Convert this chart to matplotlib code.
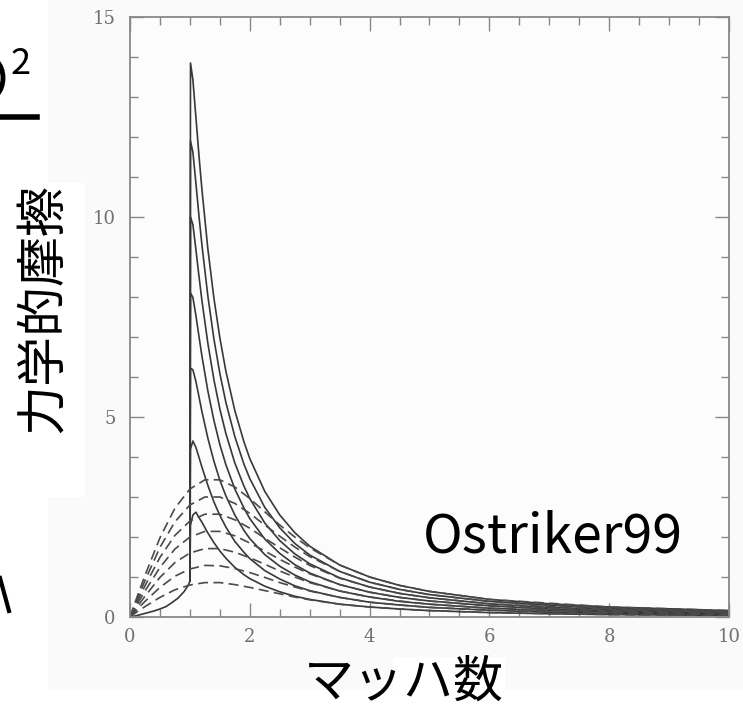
import matplotlib
matplotlib.use("Agg")
import matplotlib.pyplot as plt
from matplotlib.patches import Rectangle, Arc
from matplotlib.ticker import MultipleLocator

# subsonic part shared by all solid curves (M < 1)
sub_mach = [0.0, 0.1, 0.2, 0.3, 0.4, 0.5, 0.6, 0.7, 0.8, 0.9, 0.95, 0.98, 1.0]
sub_force = [0.0, 0.03, 0.07, 0.11, 0.15, 0.2, 0.26, 0.36, 0.47, 0.63, 0.74, 0.82, 0.9]

# gaseous drag (solid), M >= 1
gas_mach = [1.0, 1.01, 1.05, 1.1, 1.15, 1.2, 1.3, 1.4, 1.5, 1.6, 1.75, 1.9, 2.0, 2.25, 2.5,
            2.75, 3.0, 3.5, 4.0, 4.5, 5.0, 6.0, 7.0, 8.0, 10.0]
gas_force = [
    [0.9, 2.30, 2.55, 2.62, 2.49, 2.37, 2.10, 1.86, 1.65, 1.47, 1.24, 1.06, 0.96, 0.77, 0.63,
     0.52, 0.44, 0.32, 0.25, 0.20, 0.16, 0.11, 0.08, 0.06, 0.04],
    [0.9, 4.20, 4.40, 4.24, 4.00, 3.75, 3.29, 2.88, 2.54, 2.25, 1.89, 1.62, 1.46, 1.16, 0.95,
     0.78, 0.66, 0.49, 0.37, 0.30, 0.24, 0.17, 0.12, 0.09, 0.06],
    [0.9, 6.22, 6.18, 5.89, 5.52, 5.14, 4.47, 3.90, 3.42, 3.03, 2.55, 2.17, 1.96, 1.56, 1.27,
     1.05, 0.88, 0.65, 0.50, 0.39, 0.32, 0.22, 0.16, 0.125, 0.08],
    [0.9, 8.10, 7.99, 7.54, 7.03, 6.53, 5.65, 4.92, 4.31, 3.81, 3.20, 2.73, 2.46, 1.95, 1.59,
     1.31, 1.10, 0.81, 0.62, 0.49, 0.40, 0.28, 0.20, 0.156, 0.10],
    [0.9, 10.0, 9.81, 9.19, 8.54, 7.92, 6.84, 5.94, 5.20, 4.59, 3.85, 3.28, 2.96, 2.35, 1.91,
     1.58, 1.33, 0.98, 0.75, 0.59, 0.48, 0.33, 0.24, 0.19, 0.12],
    [0.9, 11.9, 11.62, 10.85, 10.05, 9.31, 8.02, 6.96, 6.09, 5.37, 4.51, 3.83, 3.46, 2.74, 2.23,
     1.84, 1.55, 1.14, 0.87, 0.69, 0.56, 0.39, 0.29, 0.22, 0.14],
    [0.9, 13.85, 13.43, 12.50, 11.56, 10.70, 9.20, 7.98, 6.98, 6.15, 5.16, 4.39, 3.96, 3.14, 2.55,
     2.11, 1.77, 1.30, 1.00, 0.79, 0.64, 0.44, 0.33, 0.25, 0.16],
]

# collisionless drag (dashed)
cl_mach = [0.0, 0.1, 0.25, 0.5, 0.75, 1.0, 1.25, 1.5, 1.75, 2.0, 2.25, 2.5, 2.75, 3.0, 3.5,
           4.0, 4.5, 5.0, 6.0, 8.0, 10.0]
cl_force = [
    [0, 0.11, 0.26, 0.49, 0.68, 0.80, 0.86, 0.86, 0.81, 0.74, 0.66, 0.58, 0.50, 0.43, 0.32,
     0.25, 0.20, 0.16, 0.11, 0.06, 0.04],
    [0, 0.16, 0.39, 0.74, 1.02, 1.20, 1.29, 1.28, 1.21, 1.11, 0.99, 0.86, 0.75, 0.65, 0.49,
     0.37, 0.30, 0.24, 0.17, 0.09, 0.06],
    [0, 0.21, 0.52, 0.99, 1.36, 1.60, 1.71, 1.71, 1.62, 1.48, 1.32, 1.15, 1.00, 0.86, 0.65,
     0.50, 0.40, 0.32, 0.22, 0.125, 0.08],
    [0, 0.27, 0.65, 1.24, 1.70, 2.00, 2.14, 2.14, 2.03, 1.85, 1.65, 1.44, 1.25, 1.08, 0.81,
     0.62, 0.49, 0.40, 0.28, 0.16, 0.10],
    [0, 0.32, 0.78, 1.49, 2.04, 2.40, 2.57, 2.57, 2.43, 2.22, 1.97, 1.73, 1.50, 1.29, 0.97,
     0.75, 0.59, 0.48, 0.33, 0.19, 0.12],
    [0, 0.37, 0.91, 1.74, 2.38, 2.80, 3.00, 3.00, 2.84, 2.59, 2.30, 2.02, 1.75, 1.51, 1.14,
     0.87, 0.69, 0.56, 0.39, 0.22, 0.14],
    [0, 0.43, 1.04, 1.98, 2.72, 3.20, 3.43, 3.43, 3.25, 2.96, 2.63, 2.30, 2.00, 1.73, 1.30,
     1.00, 0.79, 0.64, 0.44, 0.25, 0.16],
]

W, H = 743, 711
fig = plt.figure(figsize=(W / 100, H / 100), dpi=100)
fig.patch.set_facecolor("white")

# light grey background of the pasted figure
fig.add_artist(Rectangle((48 / W, (H - 690) / H), 1 - 48 / W, 690 / H,
                         transform=fig.transFigure, facecolor="#fafafa", edgecolor="none", zorder=-5))
# white boxes behind the big labels
fig.add_artist(Rectangle((20 / W, (H - 497) / H), 65 / W, 314 / H,
                         transform=fig.transFigure, facecolor="white", edgecolor="none", zorder=-4))
fig.add_artist(Rectangle((393 / W, 0), 112 / W, (H - 657) / H,
                         transform=fig.transFigure, facecolor="white", edgecolor="none", zorder=-4))

ax = fig.add_axes([130 / W, (H - 617) / H, 599 / W, 600 / H])
ax.set_facecolor("#fcfcfc")

line_col = "#383838"
ax.plot(sub_mach, sub_force, color=line_col, lw=1.2)
for f in gas_force:
    ax.plot(gas_mach, f, color=line_col, lw=1.2)
for f in cl_force:
    ax.plot(cl_mach, f, color="#4a4a4a", lw=1.2, linestyle=(0, (6, 3.2)))

ax.set_xlim(0, 10)
ax.set_ylim(0, 15)
ax.xaxis.set_major_locator(MultipleLocator(2))
ax.xaxis.set_minor_locator(MultipleLocator(0.5))
ax.yaxis.set_major_locator(MultipleLocator(5))
ax.yaxis.set_minor_locator(MultipleLocator(1))
ax.tick_params(which="both", direction="in", top=True, right=True, color="#888888", width=1.0)
ax.tick_params(which="major", length=10)
ax.tick_params(which="minor", length=6)
ax.tick_params(axis="x", pad=8)
ax.tick_params(axis="y", pad=10.5)
for lab in ax.get_xticklabels() + ax.get_yticklabels():
    lab.set_family("DejaVu Serif")
    lab.set_fontsize(13)
    lab.set_color("#707070")
for s in ax.spines.values():
    s.set_color("#888888")
    s.set_linewidth(1.3)

jp = ["Noto Sans CJK JP", "DejaVu Sans"]
fig.text(44 / W, 1 - 308 / H, "力学的摩擦", rotation=90, ha="center", va="center",
         fontsize=36, family=jp)
fig.text(404 / W, 1 - 683 / H, "マッハ数", ha="center", va="center", fontsize=36, family=jp)
fig.text(423 / W, 1 - 537 / H, "Ostriker99", fontsize=38.5, family=jp,
         ha="left", va="center")

# pieces of neighbouring slide content cut off at the left edge
fig.text(21 / W, 1 - 64 / H, "2", fontsize=26, family=jp, ha="center", va="center")
fig.add_artist(Arc((-14 / W, 1 - 78 / H), 34 / W, 44 / H, theta1=-60, theta2=60,
                   transform=fig.transFigure, color="black", lw=3.5))
fig.add_artist(plt.Line2D([0, 37 / W], [1 - 117 / H, 1 - 117 / H], transform=fig.transFigure,
                          color="black", lw=4))
fig.add_artist(plt.Line2D([0, 9 / W], [1 - 578 / H, 1 - 611 / H], transform=fig.transFigure,
                          color="black", lw=3))

fig.savefig("out.png", dpi=100)
